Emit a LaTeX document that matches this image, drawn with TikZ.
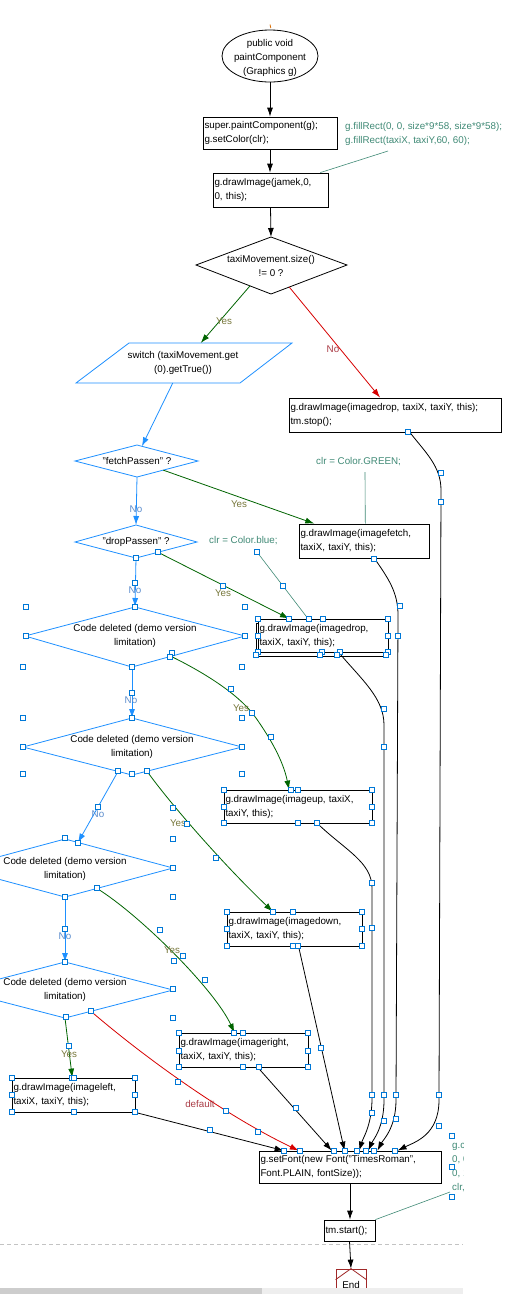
\documentclass[tikz,border=0pt]{standalone}
\usepackage{fontspec}
\setmainfont{Liberation Sans}
\usetikzlibrary{arrows.meta,calc,shapes.geometric}

\definecolor{flowblue}{RGB}{30,144,255}
\definecolor{yesgreen}{RGB}{0,100,0}
\definecolor{nored}{RGB}{215,0,0}
\definecolor{notegreen}{RGB}{64,138,118}
\definecolor{yeslbl}{RGB}{120,120,60}
\definecolor{nolbl}{RGB}{170,60,70}
\definecolor{bluelbl}{RGB}{90,140,205}
\definecolor{handleblue}{RGB}{0,120,215}
\definecolor{endred}{RGB}{160,40,40}
\definecolor{barDark}{RGB}{205,205,205}
\definecolor{barLight}{RGB}{238,238,238}
\definecolor{dashgray}{RGB}{195,195,195}

\newcommand{\figfont}{\fontsize{9.8pt}{14pt}\selectfont}

\begin{document}
\begin{tikzpicture}[x=1pt,y=-1pt,
  every node/.style={font=\figfont, inner sep=0pt},
  codebox/.style={draw=black, line width=0.8pt, align=left, inner xsep=1.5pt, inner ysep=0pt},
  txt/.style={align=center, text=black},
  conn/.style={line width=0.8pt, -{Latex[length=9pt,width=6pt]}},
  blk/.style={conn, draw=black},
  blu/.style={conn, draw=flowblue},
  grn/.style={conn, draw=yesgreen},
  rd/.style={conn, draw=nored},
  note/.style={text=notegreen, align=left},
  noteline/.style={draw=notegreen, line width=0.6pt},
  lblyes/.style={text=yeslbl},
  lblno/.style={text=nolbl},
  lblblue/.style={text=bluelbl},
  handle/.style={draw=handleblue, fill=white, line width=0.7pt},
  shapeline/.style={line width=0.8pt},
]
\useasboundingbox (0,0) rectangle (527,1310);
\fill[white] (0,0) rectangle (527,1310);
\clip (0,0) rectangle (527,1310);

% ---------- entry ----------
\draw[orange!85!black, line width=0.8pt] (270,24.5) -- (270.8,28);
\node[draw, ellipse, line width=0.8pt, minimum width=96pt, minimum height=52pt] (start) at (270,56) {};
\node[txt] (starttxt) at (270,57.5) {public void\\paintComponent\\(Graphics g)};

% ---------- statement boxes ----------
\node[codebox, text width=131pt, minimum height=32pt] (b1) at (270,133) {super.paintComponent(g);\\g.setColor(clr);};
\node[codebox, text width=112pt, minimum height=34pt] (b2) at (270.5,190) {g.drawImage(jamek,0,\\0, this);};
\node[codebox, text width=209pt, minimum height=34pt] (b3) at (395,415) {g.drawImage(imagedrop, taxiX, taxiY, this);\\tm.stop();};
\node[codebox, text width=127pt, minimum height=34pt] (bf) at (364,541) {g.drawImage(imagefetch,\\taxiX, taxiY, this);};
\draw[shapeline] (256,623) rectangle (386,656);
\node[codebox, fill=white, text width=127pt, minimum height=33pt] (bd) at (323,635.5) {g.drawImage(imagedrop,\\taxiX, taxiY, this);};
\node[codebox, text width=145pt, minimum height=33pt] (bu) at (298,806.5) {g.drawImage(imageup, taxiX,\\taxiY, this);};
\node[codebox, text width=132pt, minimum height=34pt] (bdn) at (294.5,929) {g.drawImage(imagedown,\\taxiX, taxiY, this);};
\node[codebox, text width=126pt, minimum height=34pt] (br) at (243.5,1050) {g.drawImage(imageright,\\taxiX, taxiY, this);};
\node[codebox, text width=120pt, minimum height=34pt] (bl) at (73.5,1095) {g.drawImage(imageleft,\\taxiX, taxiY, this);};
\node[codebox, text width=179pt, minimum height=32pt] (bs) at (350,1167) {g.setFont(new Font("TimesRoman",\\Font.PLAIN, fontSize));};
\node[codebox, text width=48pt, minimum height=21pt] (bt) at (349.5,1230.5) {tm.start();};

% ---------- decisions ----------
\coordinate (q1n) at (271,237); \coordinate (q1e) at (347,265);
\coordinate (q1s) at (271,294); \coordinate (q1w) at (196,265);
\draw[shapeline] (q1n) -- (q1e) -- (q1s) -- (q1w) -- cycle;
\node[txt] (q1) at (271,265.5) {taxiMovement.size()\\!= 0 ?};

\coordinate (p1) at (129,343); \coordinate (p2) at (292,343);
\coordinate (p3) at (240,383); \coordinate (p4) at (76,383);
\draw[shapeline, flowblue] (p1) -- (p2) -- (p3) -- (p4) -- cycle;
\node[txt] (sw) at (183,363) {switch (taxiMovement.get\\(0).getTrue())};

\coordinate (fqn) at (137,445); \coordinate (fqe) at (198,461);
\coordinate (fqs) at (137,477); \coordinate (fqw) at (75,461);
\draw[shapeline, flowblue] (fqn) -- (fqe) -- (fqs) -- (fqw) -- cycle;
\node[txt] (fq) at (137,461) {"fetchPassen" ?};

\coordinate (dqn) at (136,525); \coordinate (dqe) at (197,542);
\coordinate (dqs) at (136,558); \coordinate (dqw) at (75,542);
\draw[shapeline, flowblue] (dqn) -- (dqe) -- (dqs) -- (dqw) -- cycle;
\node[txt] (dq) at (136,542) {"dropPassen" ?};

\coordinate (c1n) at (135,607); \coordinate (c1e) at (245,636);
\coordinate (c1s) at (132,667); \coordinate (c1w) at (25,636);
\draw[shapeline, flowblue] (c1n) -- (c1e) -- (c1s) -- (c1w) -- cycle;
\node[txt] (c1) at (135,636) {Code deleted (demo version\\limitation)};

\coordinate (c2n) at (132,718); \coordinate (c2e) at (242,747);
\coordinate (c2s) at (132,775); \coordinate (c2w) at (23,747);
\draw[shapeline, flowblue] (c2n) -- (c2e) -- (c2s) -- (c2w) -- cycle;
\node[txt] (c2) at (132,746.5) {Code deleted (demo version\\limitation)};

\coordinate (c3n) at (65,839); \coordinate (c3e) at (173,868);
\coordinate (c3s) at (65,897); \coordinate (c3w) at (-43,868);
\draw[shapeline, flowblue] (c3n) -- (c3e) -- (c3s) -- (c3w) -- cycle;
\node[txt] (c3) at (65,869) {Code deleted (demo version\\limitation)};

\coordinate (c4n) at (65,962); \coordinate (c4e) at (173,990);
\coordinate (c4s) at (65,1018); \coordinate (c4w) at (-43,990);
\draw[shapeline, flowblue] (c4n) -- (c4e) -- (c4s) -- (c4w) -- cycle;
\node[txt] (c4) at (65,990) {Code deleted (demo version\\limitation)};

% ---------- end ----------
\node[draw=endred, line width=0.8pt, minimum width=30pt, minimum height=32pt, text=black] (endn) at (351,1285) {End};
\draw[endred, line width=0.8pt] ($(endn.north west)+(0,11)$) -- (endn.north) -- ($(endn.north east)+(0,11)$);

% ---------- main connectors ----------
\draw[blk] (start.south) -- (b1.north);
\draw[blk] (b1.south) -- (b1.south |- b2.north);
\draw[blk] (b2.south) -- (q1n);
\draw[grn] ($(q1s)!0.28!(q1w)$) -- ($(p1)!0.44!(p2)$);
\draw[rd] ($(q1s)!0.24!(q1e)$) -- ($(b3.north west)!0.43!(b3.north east)$);
\draw[blu] ($(p4)!0.59!(p3)$) -- ($(fqn)!0.08!(fqe)$);
\draw[blu] (fqs) -- (dqn);
\draw[grn] ($(fqs)!0.43!(fqe)$) -- ($(bf.north west)!0.12!(bf.north east)$);
\draw[blu] (dqs) -- (c1n);
\draw[grn] ($(dqs)!0.36!(dqe)$) -- ($(bd.north west)!0.24!(bd.north east)$);
\draw[blu] (c1s) -- (c2n);
\draw[grn] ($(c1s)!0.345!(c1e)$) .. controls (205,673) and (240,695) .. (256,718)
  .. controls (270,738) and (283,760) .. ($(bu.north west)!0.44!(bu.north east)$);
\draw[blu] ($(c2s)!0.128!(c2w)$) -- ($(c3n)!0.12!(c3e)$);
\draw[grn] ($(c2s)!0.136!(c2e)$) .. controls (172,806) and (225,866) .. ($(bdn.north west)!0.34!(bdn.north east)$);
\draw[blu] (c3s) -- (c4n);
\draw[grn] ($(c3s)!0.296!(c3e)$) .. controls (140,915) and (215,990) .. ($(br.north west)!0.43!(br.north east)$);
\draw[grn] (c4s) -- ($(bl.north west)!0.49!(bl.north east)$);
\draw[rd] ($(c4s)!0.24!(c4e)$) .. controls (150,1062) and (230,1118) .. ($(bs.north west)!0.22!(bs.north east)$);

% ---------- joins into g.setFont ----------
\draw[blk] (bl.south east) -- ($(bs.north west)!0.137!(bs.north east)$);
\draw[blk] ($(br.south west)!0.61!(br.south east)$) -- ($(bs.north west)!0.40!(bs.north east)$);
\draw[blk] ($(bdn.south west)!0.53!(bdn.south east)$) -- ($(bs.north west)!0.47!(bs.north east)$);
\draw[blk] ($(bu.south west)!0.63!(bu.south east)$) .. controls (345,850) and (372,862) .. (372,888)
  -- (372,1098) .. controls (372,1125) and (363,1138) .. ($(bs.north west)!0.55!(bs.north east)$);
\draw[blk] ($(bd.south west)!0.62!(bd.south east)$) .. controls (362,680) and (384,698) .. (384,725)
  -- (384,1100) .. controls (384,1128) and (373,1140) .. ($(bs.north west)!0.60!(bs.north east)$);
\draw[blk] ($(bf.south west)!0.58!(bf.south east)$) .. controls (388,578) and (398,592) .. (398,615)
  -- (396,1100) .. controls (396,1128) and (383,1140) .. ($(bs.north west)!0.65!(bs.north east)$);
\draw[blk] ($(b3.south west)!0.57!(b3.south east)$) .. controls (425,452) and (441,466) .. (441,490)
  -- (439,1100) .. controls (439,1135) and (415,1142) .. ($(bs.north west)!0.76!(bs.north east)$);
\draw[blk] (bs.south) -- (bs.south |- bt.north);
\draw[blk] (bt.south) -- (endn.north);

% ---------- branch labels ----------
\node[lblyes] (l1) at (224,321) {Yes};
\node[lblno] (l2) at (333,349) {No};
\node[lblblue] (l3) at (136,509) {No};
\node[lblyes] (l4) at (239,504) {Yes};
\node[lblblue] (l5) at (135,590) {No};
\node[lblyes] (l6) at (223,593) {Yes};
\node[lblblue] (l7) at (131,700) {No};
\node[lblyes] (l8) at (241,708) {Yes};
\node[lblblue] (l9) at (98,814) {No};
\node[lblyes] (l10) at (178,823) {Yes};
\node[lblblue] (l11) at (65,936) {No};
\node[lblyes] (l12) at (172,950) {Yes};
\node[lblyes] (l13) at (69,1054) {Yes};
\node[lblno] (l14) at (200,1104) {default};

% ---------- comments ----------
\node[note, anchor=west] (cm1) at (345,134) {g.fillRect(0, 0, size*9*58, size*9*58);\\g.fillRect(taxiX, taxiY,60, 60);};
\coordinate (cm1a) at (388,151);
\draw[noteline] (cm1a) -- ($(b2.north west)!0.93!(b2.north east)$);
\node[note, anchor=west] (cm2) at (316,462) {clr = Color.GREEN;};
\coordinate (cm2a) at (365,472);
\draw[noteline] (cm2a) -- ($(bf.north west)!0.51!(bf.north east)$);
\node[note, anchor=west] (cm3) at (209,541) {clr = Color.blue;};
\coordinate (cm3a) at (257,552);
\draw[noteline] (cm3a) -- ($(bd.north west)!0.385!(bd.north east)$);
\begin{scope}
  \clip (0,0) rectangle (463,1310);
  \node[note, anchor=west] (cm4) at (452,1167) {g.cl\\0, 0\\0, 1\\clr,};
\end{scope}
\coordinate (cm4a) at (450,1192);
\draw[noteline] (bt.north east) -- (cm4a);

% ---------- selection handles ----------
\foreach \hx/\hy in {408/432, 441/473, 441/502, 374/559, 400/606, 398/636,
  136/558, 158/552, 257/552, 283/586, 223/586, 135/583,
  26/607, 135/607, 245/607, 26/636, 245/636, 23/667, 132/667, 242/667, 172/653, 170/657,
  258/619, 289/619, 309/619, 323/619, 388/619, 258/636, 388/636,
  258/652, 322/652, 340/652, 388/652, 256/655, 320/655, 337/655, 386/655,
  231/689, 252/713, 271/737, 132/693, 384/709, 384/747,
  23/718, 132/718, 242/718, 23/747, 242/747, 23/774, 118/771, 132/774, 147/771, 242/774,
  224/790, 291/790, 298/790, 372/790, 224/807, 372/807, 224/823, 298/823, 317/823, 372/823,
  98/807, 173/808, 187/824,
  65/838, 78/843, 173/839, 173/868, 173/897, 65/897, 97/888, 65/929, 160/930, 174/961,
  65/962, 183/956, 173/989, 205/980, 173/1018, 66/1017, 91/1011, 69/1046, 178/1082,
  226/1111, 216/858,
  227/912, 273/912, 293/912, 362/912, 227/929, 362/929, 227/946, 293/946, 298/946, 362/946,
  372/883, 372/928, 321/1048, 296/1108,
  179/1033, 234/1033, 243/1033, 308/1033, 179/1051, 308/1051, 179/1067, 243/1067, 259/1067, 308/1067,
  12/1078, 72/1078, 74/1078, 135/1078, 12/1095, 135/1095, 12/1112, 74/1112, 135/1112,
  372/1095, 384/1095, 396/1095, 439/1095, 372/1113, 384/1121, 396/1119, 439/1126,
  210/1130, 258/1132,
  284/1151, 300/1151, 334/1151, 345/1151, 357/1151, 366/1151, 374/1151, 395/1151,
  452/1136, 452/1167, 452/1197}
  \draw[handle] (\hx-2.5,\hy-2.5) rectangle (\hx+2.5,\hy+2.5);

% ---------- page break line and scroll bar ----------
\draw[dashgray, line width=0.7pt, dash pattern=on 4pt off 3pt] (0,1244) -- (463,1244);
\fill[white] (0,1294) rectangle (527,1310);
\fill[barDark] (0,1288) rectangle (262,1294);
\fill[barLight] (262,1288) rectangle (463,1294);
\end{tikzpicture}
\end{document}
